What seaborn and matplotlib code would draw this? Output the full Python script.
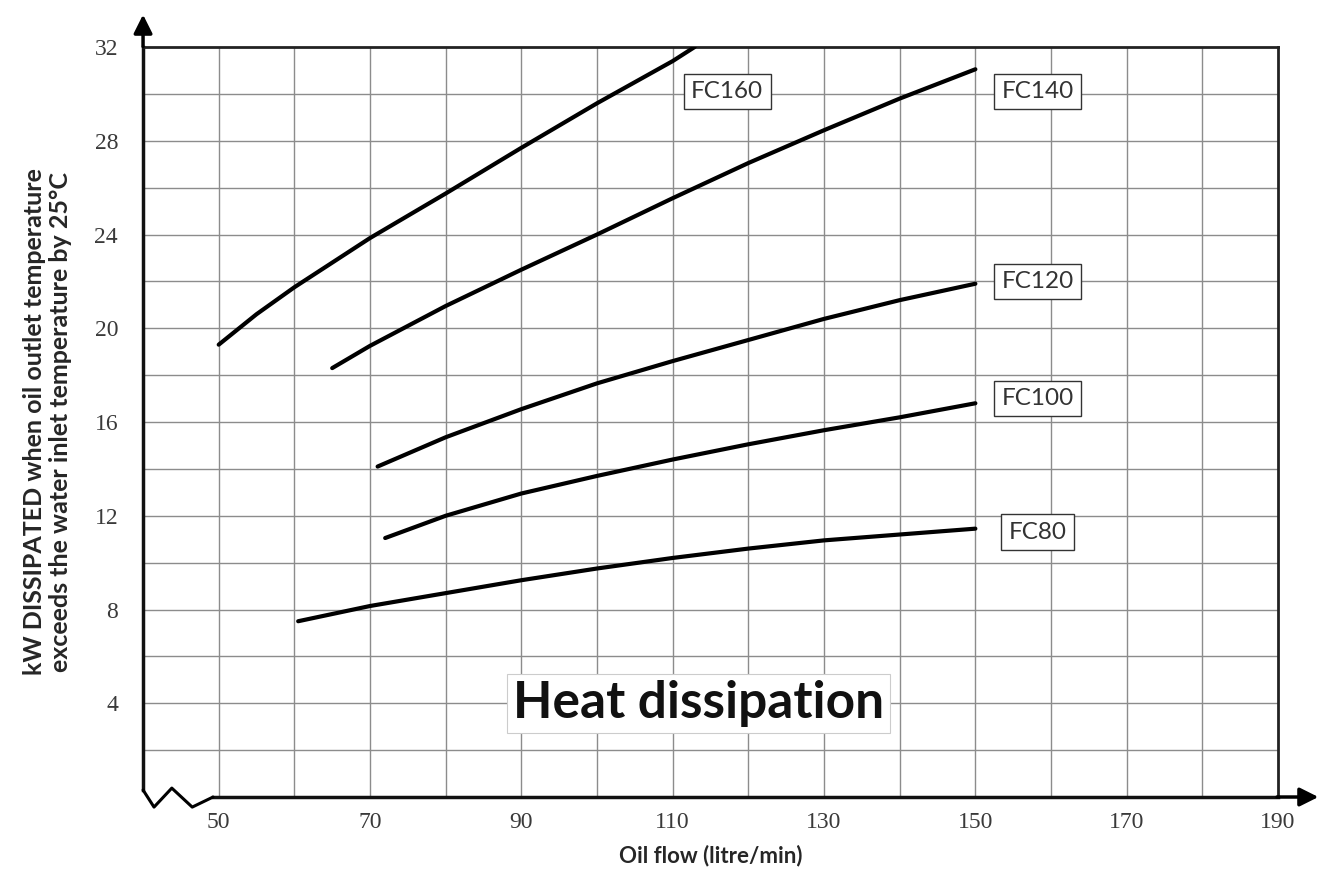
import pandas as pd
import numpy as np
import seaborn as sns
import matplotlib.pyplot as plt

# values (oil flow in litre/min, kW dissipated)
fc160_flow = [50, 55, 60, 70, 80, 90, 100, 110, 112.9]
fc160_kw = [19.3, 20.6, 21.75, 23.85, 25.75, 27.7, 29.6, 31.4, 32.0]

fc140_flow = [65, 70, 80, 90, 100, 110, 120, 130, 140, 150]
fc140_kw = [18.3, 19.25, 20.95, 22.5, 24.0, 25.55, 27.05, 28.45, 29.8, 31.05]

fc120_flow = [71, 80, 90, 100, 110, 120, 130, 140, 150]
fc120_kw = [14.1, 15.35, 16.55, 17.65, 18.6, 19.5, 20.4, 21.2, 21.9]

fc100_flow = [72, 80, 90, 100, 110, 120, 130, 140, 150]
fc100_kw = [11.05, 12.0, 12.95, 13.7, 14.4, 15.05, 15.65, 16.2, 16.8]

fc80_flow = [60.5, 70, 80, 90, 100, 110, 120, 130, 140, 150]
fc80_kw = [7.5, 8.15, 8.7, 9.25, 9.75, 10.2, 10.6, 10.95, 11.2, 11.45]

models = ['FC160', 'FC140', 'FC120', 'FC100', 'FC80']
label_x = [117.2, 158.2, 158.2, 158.2, 158.2]
label_y = [30.1, 30.1, 22.0, 17.0, 11.3]

x_ticks = [50, 70, 90, 110, 130, 150, 170, 190]
y_ticks = [4, 8, 12, 16, 20, 24, 28, 32]

frames = []
for name, fx, fy in zip(models,
                        [fc160_flow, fc140_flow, fc120_flow, fc100_flow, fc80_flow],
                        [fc160_kw, fc140_kw, fc120_kw, fc100_kw, fc80_kw]):
    frames.append(pd.DataFrame({'model': name, 'flow': fx, 'kw': fy}))
df = pd.concat(frames, ignore_index=True)

sns.set_style('white')
plt.rcParams['font.family'] = ['Lato', 'DejaVu Sans']

fig = plt.figure(figsize=(13.27, 8.77), dpi=100)
ax = fig.add_axes([0.1078, 0.0912, 0.8553, 0.8552])

sns.lineplot(data=df, x='flow', y='kw', units='model', estimator=None,
             color='black', lw=3.0, sort=False, ax=ax, zorder=3)

ax.set_xlim(40, 190)
ax.set_ylim(0, 32)

# grid (minor ticks carry the grid, keep the ones that sit on major ticks)
ax.xaxis.remove_overlapping_locs = False
ax.yaxis.remove_overlapping_locs = False
ax.set_xticks(np.arange(50, 181, 10), minor=True)
ax.set_yticks(np.arange(2, 31, 2), minor=True)
ax.grid(which='minor', color='#8c8c8c', lw=1.0)
ax.grid(which='major', visible=False)
ax.tick_params(which='minor', length=0)

ax.set_xticks(x_ticks)
ax.set_yticks(y_ticks)
ax.tick_params(which='major', length=0, labelsize=17, labelcolor='#3a3a3a')
ax.tick_params(axis='y', pad=18)
ax.tick_params(axis='x', pad=11)
for lab in ax.get_xticklabels() + ax.get_yticklabels():
    lab.set_family('Liberation Serif')

# frame and axes
for side in ['top', 'right']:
    ax.spines[side].set_color('#222222')
    ax.spines[side].set_linewidth(2)
ax.spines['left'].set_color('#111111')
ax.spines['left'].set_linewidth(2.5)
ax.spines['left'].set_bounds(0.3, 32)
ax.spines['bottom'].set_color('#111111')
ax.spines['bottom'].set_linewidth(2.5)
ax.spines['bottom'].set_bounds(49.25, 190)

ax.annotate('', xy=(40, 33.5), xytext=(40, 31.9), annotation_clip=False,
            arrowprops=dict(arrowstyle='-|>', color='black', lw=2.5, mutation_scale=28))
ax.annotate('', xy=(195.7, 0), xytext=(189.5, 0), annotation_clip=False,
            arrowprops=dict(arrowstyle='-|>', color='black', lw=2.5, mutation_scale=28))
# axis break zigzag
ax.plot([40, 41.45, 43.8, 46.5, 49.25], [0.3, -0.43, 0.38, -0.43, 0],
        color='black', lw=2.2, clip_on=False, zorder=4)

for name, lx, ly in zip(models, label_x, label_y):
    ax.text(lx, ly, name, ha='center', va='center', fontsize=17.5, color='#333333',
            bbox=dict(boxstyle='square,pad=0.3', fc='white', ec='#333333', lw=1.0), zorder=5)

ax.text(113.4, 4.0, 'Heat dissipation', ha='center', va='center', fontsize=37,
        fontweight='bold', color='#111111',
        bbox=dict(boxstyle='square,pad=0.12', fc='white', ec='#cccccc', lw=0.8), zorder=5)

ax.set_xlabel('Oil flow (litre/min)', fontsize=16, fontweight='bold', labelpad=8)
ax.set_ylabel('kW DISSIPATED when oil outlet temperature\nexceeds the water inlet temperature by 25°C',
              fontsize=18, fontweight='bold', labelpad=16, linespacing=1.15)

plt.savefig('out.png', dpi=100)
